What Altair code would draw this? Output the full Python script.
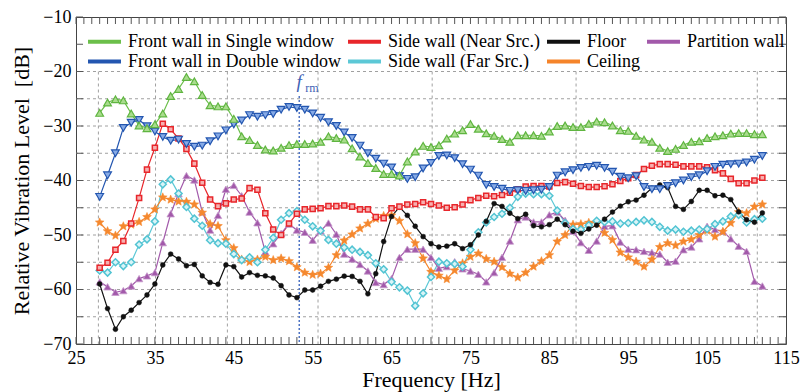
import math
import altair as alt
import pandas as pd

freqs = list(range(28, 113))

single = [-27.6,-25.7,-25.1,-25.3,-27.7,-29.9,-30.4,-29.7,-27.7,-24.5,
          -23.2,-21.0,-21.8,-24.3,-26.2,-26.4,-26.4,-28.7,-31.9,-32.6,
          -33.5,-34.3,-34.5,-34.0,-33.5,-33.3,-33.3,-33.2,-32.9,-31.9,
          -32.2,-32.5,-34.1,-35.6,-36.8,-37.7,-38.8,-38.8,-39.1,-36.5,
          -34.7,-33.65,-33.85,-33.55,-32.3,-31.4,-30.8,-29.65,-30.5,-31.35,
          -31.8,-32.4,-32.9,-31.7,-31.7,-31.7,-31.8,-31.0,-30.0,-29.9,
          -30.2,-30.2,-29.6,-29.2,-29.3,-29.9,-30.8,-30.9,-31.8,-32.5,
          -32.9,-34.0,-34.6,-34.2,-33.5,-32.9,-32.8,-32.2,-31.9,-31.7,
          -31.4,-31.3,-31.3,-31.5,-31.5]
double = [-43.0,-39.05,-35.0,-30.35,-29.4,-28.9,-30.05,-31.0,-32.0,-32.7,
          -32.5,-33.3,-33.8,-33.6,-32.8,-31.9,-30.8,-29.7,-29.0,-28.0,
          -28.3,-28.0,-27.8,-27.0,-26.5,-26.7,-27.0,-27.7,-28.5,-29.3,
          -30.0,-31.2,-32.2,-33.6,-35.0,-36.0,-36.9,-37.6,-39.2,-39.7,
          -39.4,-37.8,-36.8,-35.5,-35.4,-35.9,-37.0,-38.0,-39.1,-40.8,
          -41.2,-41.5,-41.9,-41.8,-41.9,-41.8,-41.7,-41.2,-39.1,-38.5,
          -38.1,-37.7,-37.5,-37.3,-37.7,-38.4,-39.3,-39.6,-39.2,-41.2,
          -41.6,-41.6,-41.0,-40.5,-40.0,-39.4,-39.05,-38.3,-37.5,-37.1,
          -37.0,-36.9,-36.7,-36.2,-35.5]
near = [-56.0,-55.1,-52.7,-51.1,-47.9,-43.2,-38.0,-34.0,-29.6,-30.6,
        -32.3,-34.2,-36.9,-40.4,-43.5,-44.7,-44.2,-43.5,-43.3,-41.4,
        -41.7,-46.0,-49.0,-50.0,-47.9,-46.1,-45.3,-45.2,-45.1,-44.7,
        -44.7,-44.6,-44.8,-45.3,-45.3,-46.7,-46.9,-45.1,-44.8,-44.4,
        -44.3,-44.0,-44.3,-44.6,-45.0,-44.9,-44.4,-43.6,-43.2,-42.8,
        -42.9,-42.65,-42.25,-41.6,-41.1,-41.0,-41.0,-41.1,-40.45,-40.3,
        -40.6,-41.0,-41.2,-41.2,-41.06,-40.7,-40.1,-39.6,-39.0,-37.9,
        -37.3,-37.0,-37.0,-37.1,-37.4,-37.4,-37.4,-37.6,-38.1,-38.7,
        -39.7,-40.5,-40.5,-40.0,-39.5]
far = [-56.5,-56.9,-55.0,-55.7,-55.0,-51.75,-50.8,-47.5,-40.7,-39.8,
       -42.4,-44.85,-47.0,-48.3,-50.95,-51.5,-51.6,-53.5,-54.6,-54.1,
       -55.0,-52.7,-50.5,-47.2,-46.0,-45.6,-47.2,-48.4,-49.2,-50.9,
       -51.6,-52.3,-52.7,-53.1,-53.7,-55.2,-56.3,-58.6,-59.6,-60.2,
       -63.0,-60.7,-57.7,-54.9,-55.2,-55.3,-55.8,-52.7,-49.5,-47.7,
       -46.7,-46.1,-45.0,-43.0,-42.4,-42.5,-42.5,-42.8,-45.5,-47.8,
       -48.9,-49.0,-48.2,-47.4,-47.6,-47.5,-47.9,-47.8,-47.6,-47.3,
       -47.6,-48.5,-49.2,-49.0,-49.4,-49.2,-49.0,-48.9,-48.0,-47.5,
       -46.6,-46.3,-47.7,-47.1,-47.0]
ceiling = [-47.7,-49.3,-50.1,-48.4,-48.1,-47.6,-46.7,-45.3,-43.1,-43.5,
           -43.85,-43.9,-44.4,-45.9,-48.0,-48.35,-50.95,-52.4,-54.5,-54.95,
           -54.5,-54.0,-54.6,-54.3,-54.8,-55.9,-56.9,-57.3,-57.1,-56.0,
           -53.7,-51.0,-49.9,-48.8,-47.9,-47.0,-46.5,-46.4,-47.4,-49.85,
           -51.5,-54.3,-56.75,-57.45,-58.1,-56.5,-55.2,-54.0,-53.4,-54.4,
           -54.9,-55.9,-57.1,-57.8,-56.9,-55.8,-54.8,-53.7,-51.2,-50.0,
           -48.1,-48.0,-47.75,-47.75,-49.6,-50.9,-53.2,-54.1,-54.9,-55.8,
           -54.5,-52.2,-51.5,-51.9,-51.2,-50.8,-50.0,-49.2,-50.3,-49.4,
           -47.8,-45.8,-46.0,-44.8,-44.4]
partition = [-58.6,-59.5,-60.5,-60.2,-59.35,-58.0,-57.5,-56.9,-51.4,-46.1,
             -42.4,-39.1,-39.9,-45.8,-49.1,-46.4,-41.6,-40.9,-42.8,-45.8,
             -47.75,-53.1,-51.6,-49.7,-48.0,-49.1,-49.5,-50.95,-49.24,-47.8,
             -49.85,-53.5,-54.4,-55.4,-56.6,-58.7,-59.1,-58.0,-54.1,-52.6,
             -52.6,-52.6,-54.1,-56.1,-55.8,-54.9,-56.2,-56.6,-57.2,-58.6,
             -56.9,-54.1,-51.1,-47.2,-46.7,-47.6,-47.6,-46.3,-45.8,-47.3,
             -49.3,-51.4,-52.8,-51.1,-48.4,-48.3,-51.3,-52.6,-52.7,-53.0,
             -53.2,-53.5,-55.0,-54.8,-52.7,-52.2,-50.7,-48.4,-49.0,-49.3,
             -50.7,-52.05,-53.0,-58.5,-59.35]
floor = [-59.0,-63.5,-67.3,-65.0,-63.8,-62.4,-61.0,-59.0,-55.5,-53.5,
         -54.4,-55.65,-55.4,-57.5,-58.7,-59.05,-55.5,-55.8,-57.7,-56.9,
         -57.4,-57.5,-57.9,-59.3,-61.0,-61.5,-60.1,-60.1,-59.4,-58.5,
         -58.1,-57.55,-57.6,-58.5,-60.8,-57.1,-51.2,-46.6,-44.9,-46.4,
         -48.4,-50.3,-51.6,-52.2,-52.05,-51.6,-52.5,-51.8,-50.0,-47.5,
         -44.24,-44.75,-46.0,-47.0,-46.2,-48.3,-48.5,-48.1,-47.1,-48.1,
         -49.3,-49.7,-48.9,-48.2,-47.1,-45.8,-44.7,-43.9,-43.6,-42.7,
         -41.4,-40.8,-41.3,-44.75,-45.3,-43.85,-41.8,-41.8,-42.8,-42.7,
         -43.5,-45.76,-47.2,-47.65,-45.95]

# legend order (column-major: two rows, four columns)
names = ["Front wall in Single window", "Front wall in Double window",
         "Side wall (Near Src.)", "Side wall (Far  Src.)",
         "Floor", "Ceiling", "Partition wall"]
series_values = [single, double, near, far, floor, ceiling, partition]
line_colors = ["#6bbf4a", "#2356b0", "#e8262b", "#5cc8d6", "#111111", "#f5842a", "#a259aa"]

x_ticks = list(range(25, 116, 10))
y_ticks = list(range(-70, -9, 10))
minor_x = list(range(25, 116))
minor_y = list(range(-70, -9, 5))
grid_x = [27.84, 35.08, 44.19, 55.68, 70.15, 88.39, 111.36]
grid_y = list(range(-65, -19, 5))
grid_top, grid_bottom = -20, -70
f_rm = 53.3
f_rm_top = -24.5

W, H = 710, 327
FONT = "Liberation Serif"

rows = []
for name, vals in zip(names, series_values):
    for f, v in zip(freqs, vals):
        rows.append({"freq": f, "level": v, "series": name})
df = pd.DataFrame(rows)

xs = alt.Scale(domain=[25, 115], nice=False, zero=False)
ys = alt.Scale(domain=[-70, -10], nice=False, zero=False)

AX = alt.Axis(
    values=x_ticks, title="Frequency [Hz]", grid=False, ticks=False, domain=False,
    labelFont=FONT, labelFontSize=18, labelColor="#000", labelPadding=5, labelFlush=False,
    titleFont=FONT, titleFontSize=22, titleFontWeight="normal", titleColor="#000", titlePadding=2)
AY = alt.Axis(
    values=y_ticks, title="Relative Vibration Level\u00a0 [dB]", grid=False, ticks=False, domain=False,
    labelFont=FONT, labelFontSize=18, labelColor="#000", labelPadding=5, labelFlush=False,
    titleFont=FONT, titleFontSize=22, titleFontWeight="normal", titleColor="#000", titlePadding=9)


def X(field):
    return alt.X(field, scale=xs, axis=AX)


def Y(field):
    return alt.Y(field, scale=ys, axis=AY)


# star path
pts = []
for i in range(10):
    r = 1.0 if i % 2 == 0 else 0.45
    a = -math.pi / 2 + i * math.pi / 5
    pts.append(f"{r*math.cos(a):.3f},{r*math.sin(a):.3f}")
STAR = "M" + "L".join(pts) + "Z"
LEGEND_LINE = "M-2,0L2,0"

gv_df = pd.DataFrame({"gx": grid_x, "gy1": [grid_top] * len(grid_x), "gy2": [grid_bottom] * len(grid_x)})
grid_v = alt.Chart(gv_df).mark_rule(
    color="#a0a0a0", strokeDash=[3, 3], strokeWidth=1
).encode(x=X("gx:Q"), y=Y("gy1:Q"), y2="gy2:Q")

grid_h = alt.Chart(pd.DataFrame({"gy": grid_y})).mark_rule(
    color="#a0a0a0", strokeDash=[3, 3], strokeWidth=1
).encode(y=Y("gy:Q"))

frm_df = pd.DataFrame({"f": [f_rm], "fy1": [f_rm_top], "fy2": [grid_bottom]})
frm = alt.Chart(frm_df).mark_rule(
    color="#4f74c4", strokeDash=[2, 2], strokeWidth=1.5
).encode(x=X("f:Q"), y=Y("fy1:Q"), y2="fy2:Q")

frm_f = alt.Chart(frm_df).mark_text(
    text="f", font=FONT, fontStyle="italic", fontSize=19, color="#3f62b5", align="center", baseline="alphabetic"
).encode(x=X("f:Q"), y=alt.value(71))
frm_rm = alt.Chart(frm_df).mark_text(
    text="rm", font=FONT, fontSize=12, color="#3f62b5", align="left", baseline="alphabetic", dx=6
).encode(x=X("f:Q"), y=alt.value(75))

tick_style = dict(color="#555555", strokeWidth=1)
tx = pd.DataFrame({"tx": minor_x})
ty = pd.DataFrame({"ty": minor_y})
ticks_bottom = alt.Chart(tx).mark_rule(**tick_style).encode(
    x=X("tx:Q"), y=alt.value(H), y2=alt.value(H - 7))
ticks_top = alt.Chart(tx).mark_rule(**tick_style).encode(
    x=X("tx:Q"), y=alt.value(0), y2=alt.value(7))
ticks_left = alt.Chart(ty).mark_rule(**tick_style).encode(
    y=Y("ty:Q"), x=alt.value(0), x2=alt.value(7))
ticks_right = alt.Chart(ty).mark_rule(**tick_style).encode(
    y=Y("ty:Q"), x=alt.value(W), x2=alt.value(W - 7))

lines = alt.Chart(df).mark_line(strokeWidth=1.2).encode(
    x=X("freq:Q"), y=Y("level:Q"),
    color=alt.Color("series:N", scale=alt.Scale(domain=names, range=line_colors),
                    legend=alt.Legend(title=None, orient="none", legendX=18, legendY=14,
                                      columns=4, symbolType=LEGEND_LINE, symbolSize=272,
                                      symbolStrokeWidth=4, labelFont=FONT, labelFontSize=18,
                                      labelColor="#000", labelLimit=400, columnPadding=-1,
                                      rowPadding=0, labelOffset=13, padding=0)))

marker_styles = {
    "Front wall in Single window": dict(shape="triangle-up", size=60, fill="#a9dc8d", stroke="#5fb540", strokeWidth=1.2),
    "Front wall in Double window": dict(shape="triangle-down", size=60, fill="#86aae6", stroke="#2356b0", strokeWidth=1.2),
    "Side wall (Near Src.)": dict(shape="square", size=26, fill="#f6b0b0", stroke="#e8262b", strokeWidth=1.5),
    "Side wall (Far  Src.)": dict(shape="diamond", size=50, fill="#d9f4f7", stroke="#52c4d3", strokeWidth=1.5),
    "Ceiling": dict(shape=STAR, size=85, fill="#f5882e", stroke="#f5882e", strokeWidth=0.5),
    "Partition wall": dict(shape="triangle-up", size=55, fill="#a259aa", stroke="#c79acb", strokeWidth=0.8),
    "Floor": dict(shape="circle", size=24, fill="#111111", stroke="#111111", strokeWidth=0.5),
}
draw_order = ["Partition wall", "Ceiling", "Side wall (Far  Src.)", "Floor",
              "Side wall (Near Src.)", "Front wall in Double window", "Front wall in Single window"]
point_layers = []
for name in draw_order:
    st = marker_styles[name]
    sub = df[df["series"] == name]
    point_layers.append(
        alt.Chart(sub).mark_point(filled=True, opacity=1, **st).encode(
            x=X("freq:Q"), y=Y("level:Q"))
    )

chart = alt.layer(
    grid_v, grid_h, frm, frm_f, frm_rm,
    ticks_bottom, ticks_top, ticks_left, ticks_right,
    lines, *point_layers
).properties(
    width=W, height=H,
    padding={"left": 76, "top": 17, "right": 14, "bottom": 48},
    autosize=alt.AutoSizeParams(type="none"),
    background="white",
).configure(font=FONT
).configure_view(stroke="#444444", strokeWidth=1
).configure_axis(labelFont=FONT, titleFont=FONT, labelFontSize=18, titleFontSize=22,
                 titleFontWeight="normal", labelColor="#000", titleColor="#000"
).configure_text(font=FONT)

chart.save("out.html", embed_options={"renderer": "svg", "actions": False})
